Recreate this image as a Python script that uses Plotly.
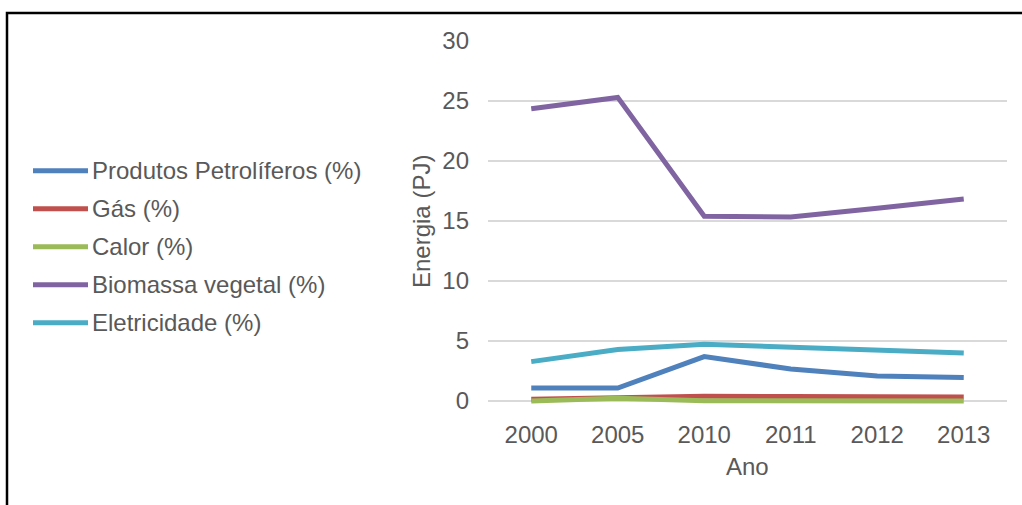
import plotly.graph_objects as go

# Energy consumption by source, 2000-2013
anos = ["2000", "2005", "2010", "2011", "2012", "2013"]
produtos_petroliferos = [1.08, 1.08, 3.70, 2.67, 2.08, 1.95]
gas = [0.14, 0.28, 0.39, 0.38, 0.37, 0.33]
calor = [0.00, 0.22, 0.02, 0.01, 0.01, 0.01]
biomassa_vegetal = [24.36, 25.30, 15.40, 15.33, 16.06, 16.83]
eletricidade = [3.28, 4.30, 4.72, 4.47, 4.25, 4.00]

nomes = ["Produtos Petrolíferos (%)", "Gás (%)", "Calor (%)",
         "Biomassa vegetal (%)", "Eletricidade (%)"]
series = [produtos_petroliferos, gas, calor, biomassa_vegetal, eletricidade]
cores = ["#4F81BD", "#C0504D", "#9BBB59", "#8064A2", "#4BACC6"]

y_ticks = [0, 5, 10, 15, 20, 25, 30]

W, H = 1022, 505
PL, PR, PT, PB = 488, 1007, 41, 404   # plot area edges (px)
Y_MIN, Y_MAX = -0.25, 30

FONT = "Liberation Sans, Arial, sans-serif"
GREY = "#595959"
FS = 24


def px_x(px):
    return (px - PL) / (PR - PL)


def px_y(py):
    return (PB - py) / (PB - PT)


fig = go.Figure()
for nome, valores, cor in zip(nomes, series, cores):
    fig.add_trace(go.Scatter(
        x=anos, y=valores, name=nome, mode="lines",
        line=dict(color=cor, width=5), showlegend=False,
    ))

shapes = []
annotations = []

# legend drawn on the left side
leg_y0, leg_dy = 170.7, 38.0
for i, (nome, cor) in enumerate(zip(nomes, cores)):
    yy = px_y(leg_y0 + i * leg_dy)
    shapes.append(dict(type="line", xref="paper", yref="paper",
                       x0=px_x(33), x1=px_x(88), y0=yy, y1=yy,
                       line=dict(color=cor, width=5)))
    annotations.append(dict(text=nome, xref="paper", yref="paper",
                            x=px_x(90), y=yy, xanchor="left", yanchor="middle",
                            showarrow=False,
                            font=dict(family=FONT, size=FS, color=GREY)))

# axis titles
annotations.append(dict(text="Energia (PJ)", xref="paper", yref="paper",
                        x=px_x(421), y=px_y(222), textangle=-90,
                        xanchor="center", yanchor="middle", showarrow=False,
                        font=dict(family=FONT, size=FS, color=GREY)))
annotations.append(dict(text="Ano", xref="paper", yref="paper",
                        x=px_x(747), y=px_y(466),
                        xanchor="center", yanchor="middle", showarrow=False,
                        font=dict(family=FONT, size=FS, color=GREY)))

# chart frame
shapes.append(dict(type="rect", xref="paper", yref="paper",
                   x0=px_x(7), x1=px_x(1030), y0=px_y(13), y1=px_y(520),
                   line=dict(color="black", width=2.5), layer="above"))

fig.update_layout(
    width=W, height=H,
    margin=dict(l=PL, r=W - PR, t=PT, b=H - PB, autoexpand=False),
    paper_bgcolor="white", plot_bgcolor="white",
    font=dict(family=FONT, size=FS, color=GREY),
    shapes=shapes, annotations=annotations,
    xaxis=dict(type="category", categoryorder="array", categoryarray=anos,
               range=[-0.5, len(anos) - 0.5],
               showgrid=False, showline=False, zeroline=False, ticks="",
               ticklabelstandoff=14,
               tickfont=dict(family=FONT, size=FS, color=GREY)),
    yaxis=dict(range=[Y_MIN, Y_MAX], tickvals=y_ticks,
               showgrid=True, gridcolor="#D9D9D9", gridwidth=1.5,
               showline=False, zeroline=False, ticks="",
               ticklabelstandoff=18,
               tickfont=dict(family=FONT, size=FS, color=GREY)),
)

fig.write_html("out.html")
